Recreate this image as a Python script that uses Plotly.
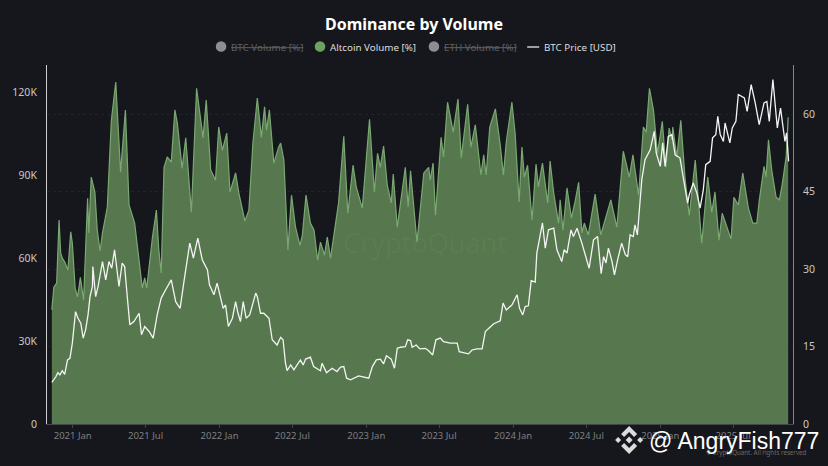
#!/usr/bin/env python3
"""Dominance by Volume: altcoin share of volume against BTC price."""
import pandas as pd
import plotly.graph_objects as go

W, H = 828, 466
L, R, T, B = 46.5, 793, 65, 424

BG = "#16171c"
FILL = "#57784e"
LINE_GREEN = "#7aa872"
GREY = "#8d8d92"

# values; days are counted from 2021-01-01
START = pd.Timestamp("2021-01-01")

alt_days = [
    -52, -47, -40, -34, -30, -26, -20, -12, -5, -1, 6, 12, 19, 27, 37, 40, 46, 55, 61, 68,
    74, 86, 96, 107, 112, 119, 131, 140, 154, 173, 179, 184, 198, 208, 214, 220, 227, 235, 245, 254,
    260, 272, 281, 286, 295, 308, 316, 324, 332, 343, 355, 363, 372, 383, 391, 405, 413, 428, 438, 448,
    459, 469, 477, 482, 489, 500, 512, 517, 525, 535, 544, 554, 565, 571, 580, 591, 600, 609, 616, 626,
    633, 641, 661, 674, 684, 697, 705, 720, 738, 750, 758, 765, 773, 782, 792, 797, 807, 827, 834, 840,
    856, 873, 885, 889, 896, 902, 916, 922, 932, 946, 958, 966, 982, 990, 1001, 1015, 1022, 1028, 1037, 1051,
    1063, 1071, 1078, 1092, 1100, 1110, 1117, 1123, 1131, 1142, 1152, 1158, 1168, 1181, 1187, 1196, 1208, 1212, 1219, 1229,
    1240, 1249, 1258, 1266, 1272, 1282, 1299, 1313, 1338, 1353, 1369, 1384, 1393, 1407, 1419, 1426, 1434, 1444, 1454, 1466,
    1475, 1483, 1490, 1492, 1502, 1512, 1523, 1533, 1548, 1564, 1579, 1589, 1597, 1607, 1615, 1626, 1637, 1644, 1655, 1666,
    1680, 1691, 1701, 1707, 1719, 1724, 1730, 1738, 1749, 1757, 1764, 1774, 1779,
]
alt_pct = [
    22.1, 26.5, 27.3, 39.5, 33.1, 32.1, 31.4, 29.8, 37.2, 35.0, 26.3, 24.6, 28.4, 24.0, 43.7, 37.0, 47.8, 44.9, 37.5, 33.5,
    37.0, 42.0, 58.8, 66.2, 58.8, 48.8, 60.8, 42.4, 38.9, 26.3, 28.3, 26.3, 36.0, 41.4, 33.7, 29.2, 49.7, 51.7, 50.7, 60.8,
    58.3, 49.5, 55.4, 50.7, 41.0, 65.0, 60.4, 55.4, 62.7, 49.2, 47.2, 57.5, 53.0, 56.3, 44.9, 48.6, 44.7, 39.3, 41.4, 54.4,
    63.1, 55.5, 61.4, 56.9, 60.8, 50.5, 53.6, 54.4, 51.1, 33.7, 44.3, 38.1, 34.6, 36.6, 44.3, 38.9, 37.5, 31.7, 35.2, 32.7,
    36.2, 32.1, 42.8, 55.7, 40.8, 50.1, 45.9, 41.8, 59.0, 44.9, 52.4, 49.7, 53.8, 46.3, 42.8, 48.4, 38.1, 49.7, 42.0, 49.0,
    35.2, 48.6, 49.7, 47.2, 50.5, 40.4, 55.5, 51.7, 62.3, 56.5, 62.9, 51.5, 61.9, 53.6, 57.9, 48.2, 52.1, 48.2, 57.5, 61.0,
    54.0, 48.2, 54.6, 62.3, 56.3, 43.0, 53.6, 47.8, 50.1, 39.5, 50.3, 45.9, 50.5, 42.8, 50.9, 44.7, 38.9, 43.4, 37.5, 45.7,
    39.9, 43.0, 46.8, 37.0, 38.9, 36.6, 44.5, 36.6, 43.4, 38.1, 52.8, 47.8, 52.1, 44.3, 57.5, 56.5, 65.0, 60.8, 52.4, 58.6,
    49.7, 57.3, 55.0, 57.5, 51.7, 58.8, 47.2, 40.4, 51.1, 35.0, 47.8, 41.0, 44.9, 35.6, 40.8, 38.1, 35.8, 43.9, 42.4, 48.6,
    41.8, 38.9, 38.9, 43.2, 49.9, 47.8, 55.0, 49.2, 43.9, 43.4, 46.3, 51.7, 59.4,
]

btc_days = [
    -52, -42, -37, -32, -26, -20, -13, -7, -1, 7, 13, 20, 26, 32, 38, 43, 49, 50, 57, 63,
    74, 82, 90, 97, 104, 115, 123, 129, 137, 142, 152, 165, 171, 179, 190, 200, 210, 220, 231, 245,
    256, 267, 276, 291, 300, 311, 322, 335, 340, 351, 359, 366, 374, 380, 387, 397, 405, 411, 417, 424,
    431, 440, 455, 459, 467, 475, 488, 496, 508, 517, 523, 529, 533, 542, 550, 558, 566, 573, 579, 591,
    599, 616, 620, 631, 645, 657, 666, 674, 681, 691, 711, 736, 745, 755, 765, 773, 780, 792, 800, 807,
    815, 827, 833, 840, 844, 854, 863, 877, 885, 895, 903, 914, 922, 939, 956, 961, 976, 984, 993, 1005,
    1018, 1026, 1038, 1047, 1063, 1070, 1078, 1092, 1105, 1111, 1119, 1125, 1133, 1140, 1150, 1154, 1161, 1168, 1175, 1183,
    1196, 1204, 1216, 1222, 1229, 1239, 1245, 1254, 1266, 1274, 1284, 1295, 1305, 1314, 1320, 1326, 1332, 1341, 1347, 1355,
    1365, 1374, 1380, 1386, 1394, 1398, 1404, 1409, 1415, 1423, 1427, 1436, 1446, 1451, 1461, 1467, 1473, 1481, 1490, 1498,
    1510, 1521, 1529, 1533, 1543, 1552, 1560, 1568, 1574, 1585, 1591, 1599, 1604, 1610, 1618, 1622, 1634, 1640, 1649, 1655,
    1670, 1677, 1687, 1697, 1707, 1719, 1726, 1732, 1741, 1752, 1760, 1771, 1775, 1780,
]
btc_price = [
    15100, 17100, 18600, 17800, 19300, 18000, 23200, 23800, 29300, 40700, 38300, 36500, 31100, 34100, 39500, 46100, 49800, 57000, 46100, 49800,
    58800, 52200, 58800, 56400, 63100, 49800, 58300, 57000, 43800, 35900, 37100, 40100, 32300, 35300, 33500, 31100, 39500, 45600, 48600, 52200,
    44300, 41900, 51000, 65500, 60100, 67300, 59500, 55800, 50400, 46800, 51000, 46800, 41900, 43100, 35300, 38300, 44300, 40100, 37100, 44300,
    38300, 39500, 47400, 46100, 40100, 40100, 38300, 30500, 28600, 31400, 30500, 22000, 19300, 21400, 19600, 21400, 23200, 21400, 23500, 24200,
    20800, 19300, 22000, 18600, 20200, 19000, 20600, 20800, 16600, 16000, 17400, 16600, 20800, 23200, 23500, 21800, 24700, 23500, 20200, 27400,
    27800, 28000, 30500, 30200, 27800, 28600, 27200, 27400, 26500, 25000, 30500, 31100, 29800, 29300, 29300, 26200, 25800, 25400, 26800, 27200,
    27200, 33500, 35100, 36300, 37400, 43800, 41300, 43100, 46800, 41900, 39500, 42500, 42800, 51900, 51400, 61900, 67300, 72800, 63700, 70300,
    70900, 63100, 58800, 63100, 61900, 70300, 67900, 70900, 65500, 61300, 56400, 66700, 67900, 54400, 60600, 58300, 63700, 58800, 54000, 59500,
    65500, 61300, 60600, 68500, 67900, 72100, 68500, 77600, 88500, 95700, 96900, 99300, 106000, 98100, 93300, 101800, 93300, 104100, 104800, 97500,
    96300, 86000, 80000, 83000, 87300, 83600, 78200, 84800, 93900, 95100, 103600, 104800, 111400, 104800, 102300, 109000, 101800, 107200, 109600, 119300,
    118100, 113200, 122900, 116300, 108400, 116300, 116800, 109600, 124700, 107200, 114400, 102300, 105400, 95100,
]

price_ticks = [0, 30000, 60000, 90000, 120000]
price_labels = ["0", "30K", "60K", "90K", "120K"]
pct_ticks = [0, 15, 30, 45, 60]

alt_dates = [START + pd.Timedelta(days=d) for d in alt_days]
btc_dates = [START + pd.Timedelta(days=d) for d in btc_days]


def px(x):
    return (x - L) / (R - L)


def py(y):
    return (B - y) / (B - T)


fig = go.Figure()
# altcoin sits on the base axis so that the price line is painted over it
fig.add_trace(go.Scatter(
    x=alt_dates, y=alt_pct, mode="lines", name="Altcoin Volume [%]",
    line=dict(color=LINE_GREEN, width=1.2), fill="tozeroy", fillcolor=FILL,
))
fig.add_trace(go.Scatter(
    x=btc_dates, y=btc_price, mode="lines", name="BTC Price [USD]", yaxis="y2",
    line=dict(color="#f4f4f4", width=1.3),
))


def note(x, y, text, size, color, anchor="left", family="Noto Sans", **font):
    return dict(
        x=px(x), y=py(y), xref="paper", yref="paper", text=text, showarrow=False,
        xanchor=anchor, yanchor="middle", borderpad=0,
        font=dict(size=size, color=color, family=family, **font),
    )


def dot(x, y, color, r=5.3):
    return dict(
        type="circle", xref="paper", yref="paper", line_width=0, fillcolor=color,
        x0=px(x - r), x1=px(x + r), y0=py(y + r), y1=py(y - r),
    )


def poly(points, color="#dcdcdc"):
    path = "M" + " L".join(f"{px(x):.5f},{py(y):.5f}" for x, y in points) + " Z"
    return dict(type="path", xref="paper", yref="paper", path=path, fillcolor=color, line_width=0)


annotations = [
    note(414, 24, "<b>Dominance by Volume</b>", 16, "#ffffff", "center"),
    note(230, 47, "BTC Volume [%]", 9.8, "#5f5f64", lineposition="through"),
    note(328.5, 47, "Altcoin Volume [%]", 9.8, "#dedede"),
    note(443, 47, "ETH Volume [%]", 9.8, "#5f5f64", lineposition="through"),
    note(543, 47, "BTC Price [USD]", 9.8, "#dedede"),
    note(425, 243, "CryptoQuant", 27, "rgba(255,255,255,0.03)", "center"),
    note(808, 452, "© CryptoQuant. All rights reserved", 6.2, "#6a6a6a", "right"),
    note(648, 441, "@ AngryFish777", 23, "#ffffff", family="Liberation Sans"),
]

cx, cy = 629, 440
shapes = [
    dot(220.7, 46.5, GREY), dot(319.7, 46.5, "#6aa35f"), dot(433.7, 46.5, GREY),
    dict(type="line", xref="paper", yref="paper", x0=px(527), x1=px(539), y0=py(47), y1=py(47),
         line=dict(color="#e8e8e8", width=1.3)),
    # exchange logo next to the handle
    poly([(cx, cy - 14), (cx + 8, cy - 6), (cx + 5, cy - 3), (cx, cy - 8), (cx - 5, cy - 3), (cx - 8, cy - 6)]),
    poly([(cx, cy + 14), (cx + 8, cy + 6), (cx + 5, cy + 3), (cx, cy + 8), (cx - 5, cy + 3), (cx - 8, cy + 6)]),
    poly([(cx - 14, cy), (cx - 11, cy - 3), (cx - 8, cy), (cx - 11, cy + 3)]),
    poly([(cx + 14, cy), (cx + 11, cy - 3), (cx + 8, cy), (cx + 11, cy + 3)]),
    poly([(cx, cy - 3.5), (cx + 3.5, cy), (cx, cy + 3.5), (cx - 3.5, cy)]),
]

fig.update_layout(
    width=W, height=H, autosize=False,
    paper_bgcolor=BG, plot_bgcolor=BG,
    margin=dict(l=L, r=W - R, t=T, b=H - B, pad=0),
    showlegend=False,
    font=dict(family="Noto Sans", color="#c8c8c8"),
    annotations=annotations,
    shapes=shapes,
    xaxis=dict(
        type="date", range=["2020-10-29", "2025-11-27"],
        tick0="2021-01-01", dtick="M6", tickformat="%Y %b",
        ticks="outside", ticklen=3, tickcolor="#44454a",
        tickfont=dict(size=9.5, color="#7f7f82"),
        showgrid=False, zeroline=False,
        showline=True, linecolor="#44454a", linewidth=1,
    ),
    yaxis=dict(
        side="right", range=[0, 69.5], tickvals=pct_ticks,
        ticks="outside", ticklen=7, tickcolor="rgba(0,0,0,0)",
        tickfont=dict(size=10.5, color="#c8c8c8"),
        showgrid=True, gridcolor="#222328", gridwidth=1, griddash="dot", zeroline=False,
        showline=True, linecolor="#6f9a66", linewidth=1,
    ),
    yaxis2=dict(
        side="left", overlaying="y", range=[0, 130000],
        tickvals=price_ticks, ticktext=price_labels,
        ticks="outside", ticklen=7, tickcolor="rgba(0,0,0,0)",
        tickfont=dict(size=10.5, color="#c8c8c8"),
        showgrid=False, zeroline=False,
        showline=True, linecolor="#cfcfcf", linewidth=1,
    ),
)

# the page's default body margin would push the chart off the window
fig.write_html(
    "out.html", config=dict(displayModeBar=False),
    post_script="document.body.style.margin='0';document.body.style.background='" + BG + "';",
)
